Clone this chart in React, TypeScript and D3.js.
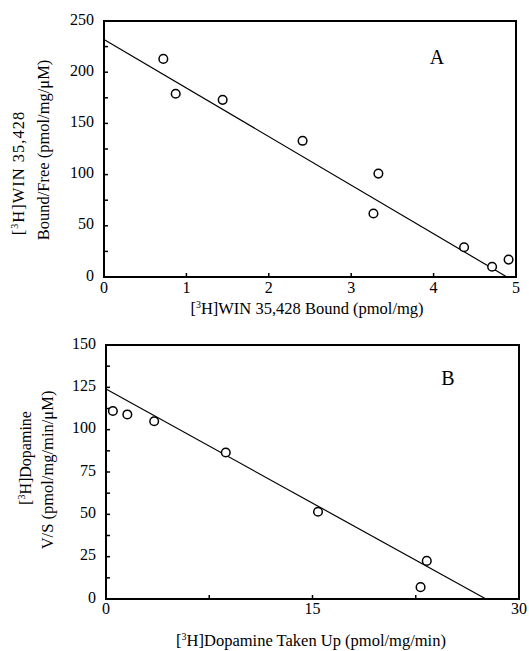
import React from 'react'
import * as d3 from 'd3'

const W = 529
const H = 651
const FONT = '"Liberation Serif", "Times New Roman", serif'

// Panel A: Scatchard plot of [3H]WIN 35,428 binding
const aBound = [0.72, 0.87, 1.44, 2.41, 3.33, 3.27, 4.37, 4.71, 4.91]
const aRatio = [213, 179, 173, 133, 101, 62, 29, 10, 17]
const aFit = [{ x: 0, y: 232 }, { x: 4.89, y: 0 }]
const aXTicks = [0, 1, 2, 3, 4, 5]
const aYTicks = [0, 50, 100, 150, 200, 250]
const aYMinor = [25, 75, 125, 175, 225]

// Panel B: Eadie-Hofstee plot of [3H]dopamine uptake
const bUptake = [0.5, 1.55, 3.5, 8.7, 15.4, 23.3, 22.85]
const bRatio = [111, 109, 105, 86.5, 51.5, 22.5, 7]
const bFit = [{ x: 0, y: 124 }, { x: 27.6, y: 0 }]
const bXTicks = [0, 15, 30]
const bXMinor = [7.5, 22.5]
const bYTicks = [0, 25, 50, 75, 100, 125, 150]
const bYMinor = [12.5, 37.5, 62.5, 87.5, 112.5, 137.5]

type Box = { left: number; right: number; top: number; bottom: number }

function Sup({ pre, post }: { pre: string; post: string }) {
  return (
    <>
      {pre}
      <tspan fontSize={10} dy={-6}>3</tspan>
      <tspan dy={6}>{post}</tspan>
    </>
  )
}

function Panel(props: {
  box: Box
  xDomain: [number, number]
  yDomain: [number, number]
  xTicks: number[]
  xMinor: number[]
  yTicks: number[]
  yMinor: number[]
  xs: number[]
  ys: number[]
  fit: { x: number; y: number }[]
  letter: string
  letterPos: [number, number]
  tickLabelY: number
}) {
  const { box } = props
  const x = d3.scaleLinear().domain(props.xDomain).range([box.left, box.right])
  const y = d3.scaleLinear().domain(props.yDomain).range([box.bottom, box.top])
  const line = d3.line<{ x: number; y: number }>().x(d => x(d.x)).y(d => y(d.y))
  const tl = 4
  return (
    <g>
      {/* inward ticks */}
      {props.yTicks.concat(props.yMinor).map(v => (
        <line key={'yt' + v} x1={box.left} x2={box.left + tl} y1={y(v)} y2={y(v)} stroke="#000" strokeWidth={1.5} />
      ))}
      {props.xTicks.concat(props.xMinor).map(v => (
        <line key={'xt' + v} x1={x(v)} x2={x(v)} y1={box.bottom} y2={box.bottom - tl} stroke="#000" strokeWidth={1.5} />
      ))}
      <rect x={box.left} y={box.top} width={box.right - box.left} height={box.bottom - box.top}
        fill="none" stroke="#000" strokeWidth={2} />
      {props.yTicks.map(v => (
        <text key={'yl' + v} x={box.left - 10} y={y(v) + 3.5} textAnchor="end" fontSize={16} fontFamily={FONT}>{v}</text>
      ))}
      {props.xTicks.map(v => (
        <text key={'xl' + v} x={x(v)} y={props.tickLabelY} textAnchor="middle" fontSize={16} fontFamily={FONT}>{v}</text>
      ))}
      <path d={line(props.fit) || ''} fill="none" stroke="#000" strokeWidth={1.2} />
      {props.xs.map((v, i) => (
        <circle key={'p' + i} cx={x(v)} cy={y(props.ys[i])} r={4.3} fill="#fff" stroke="#000" strokeWidth={1.5} />
      ))}
      <text x={props.letterPos[0]} y={props.letterPos[1]} textAnchor="middle" fontSize={20} fontFamily={FONT}>{props.letter}</text>
    </g>
  )
}

export default function App() {
  const boxA = { left: 104, right: 516, top: 21, bottom: 277 }
  const boxB = { left: 106, right: 519, top: 345, bottom: 599 }
  return (
    <svg width={W} height={H} style={{ position: 'absolute', left: 0, top: 0, background: '#fff' }}>
      <Panel box={boxA} xDomain={[0, 5]} yDomain={[0, 250]} xTicks={aXTicks} xMinor={[]}
        yTicks={aYTicks} yMinor={aYMinor} xs={aBound} ys={aRatio} fit={aFit}
        letter="A" letterPos={[437, 64]} tickLabelY={293} />
      <text x={307} y={314} textAnchor="middle" fontSize={16.5} fontFamily={FONT}>
        <Sup pre="[" post="H]WIN 35,428 Bound (pmol/mg)" />
      </text>
      <text transform="translate(24,173) rotate(-90)" textAnchor="middle" fontSize={16.5} fontFamily={FONT} letterSpacing={1}>
        <Sup pre="[" post="H]WIN 35,428" />
      </text>
      <text transform="translate(49,150) rotate(-90)" textAnchor="middle" fontSize={16.5} fontFamily={FONT}>
        Bound/Free (pmol/mg/μM)
      </text>

      <Panel box={boxB} xDomain={[0, 30]} yDomain={[0, 150]} xTicks={bXTicks} xMinor={bXMinor}
        yTicks={bYTicks} yMinor={bYMinor} xs={bUptake} ys={bRatio} fit={bFit}
        letter="B" letterPos={[448, 385]} tickLabelY={614} />
      <text x={311} y={646} textAnchor="middle" fontSize={16.5} fontFamily={FONT}>
        <Sup pre="[" post="H]Dopamine Taken Up (pmol/mg/min)" />
      </text>
      <text transform="translate(31,458) rotate(-90)" textAnchor="middle" fontSize={16} fontFamily={FONT}>
        <Sup pre="[" post="H]Dopamine" />
      </text>
      <text transform="translate(53,470) rotate(-90)" textAnchor="middle" fontSize={16.5} fontFamily={FONT}>
        V/S (pmol/mg/min/μM)
      </text>
    </svg>
  )
}
